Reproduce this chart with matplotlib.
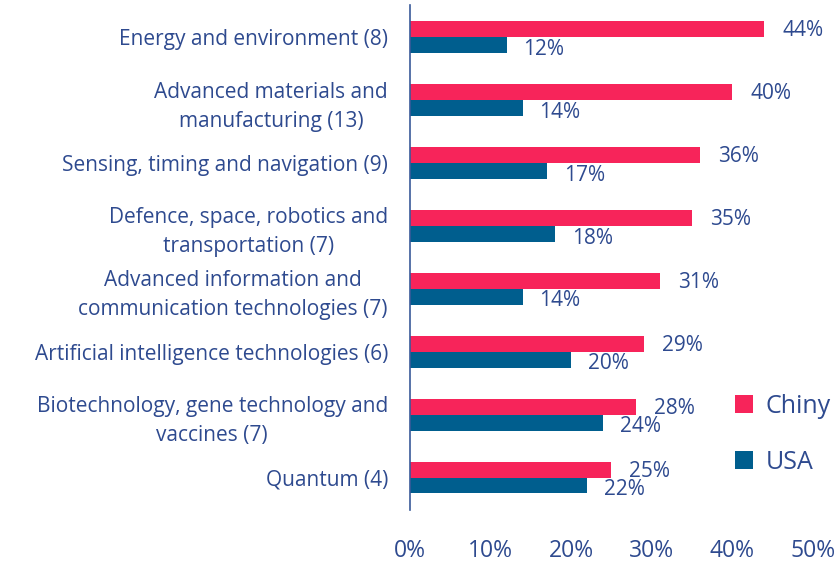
import matplotlib.pyplot as plt
import numpy as np

# --- Data ---
categories = [
    "Energy and environment (8)",
    "Advanced materials and\nmanufacturing (13)",
    "Sensing, timing and navigation (9)",
    "Defence, space, robotics and\ntransportation (7)",
    "Advanced information and\ncommunication technologies (7)",
    "Artificial intelligence technologies (6)",
    "Biotechnology, gene technology and\nvaccines (7)",
    "Quantum (4)",
]
chiny = [44, 40, 36, 35, 31, 29, 28, 25]
usa = [12, 14, 17, 18, 14, 20, 24, 22]
xticks = [0, 10, 20, 30, 40, 50]

red = "#F7245A"
blue = "#005E8E"
txt = "#2E4A8F"

plt.rcParams["font.family"] = ["Open Sans", "DejaVu Sans"]

fig = plt.figure(figsize=(8.37, 5.64), dpi=100)
ax = fig.add_axes([0.49, 0.096, 0.481, 0.895])

y = np.arange(len(categories))
h = 0.25
ax.barh(y - h / 2, chiny, height=h, color=red, label="Chiny")
ax.barh(y + h / 2, usa, height=h, color=blue, label="USA")

# value labels
for yi, v in zip(y, chiny):
    ax.annotate(f"{v}%", (v, yi - h / 2), xytext=(13, -1), textcoords="offset points",
                va="center", ha="left", fontsize=15, color=txt)
for yi, v in zip(y, usa):
    ax.annotate(f"{v}%", (v, yi + h / 2), xytext=(12, -3), textcoords="offset points",
                va="center", ha="left", fontsize=15, color=txt)

ax.set_xlim(0, 50)
ax.set_ylim(7.51, -0.51)
ax.set_xticks(xticks)
ax.set_xticklabels([f"{t}%" for t in xticks], fontsize=16.5, color=txt)
ax.set_yticks(y)
ax.set_yticklabels(categories, fontsize=15, color=txt, ha="right",
                   multialignment="center", linespacing=1.5)
ax.tick_params(axis="y", length=0, pad=16)
ax.tick_params(axis="x", length=0, pad=21)

for s in ["top", "right", "bottom"]:
    ax.spines[s].set_visible(False)
ax.spines["left"].set_color("#3A5A9A")
ax.spines["left"].set_linewidth(1.2)

leg = ax.legend(loc="center left", bbox_to_anchor=(0.75, 0.15), frameon=False,
                fontsize=18, handlelength=0.75, handleheight=0.75, labelspacing=1.25,
                handletextpad=0.5)
for t in leg.get_texts():
    t.set_color(txt)

fig.savefig("out.png", dpi=100)
